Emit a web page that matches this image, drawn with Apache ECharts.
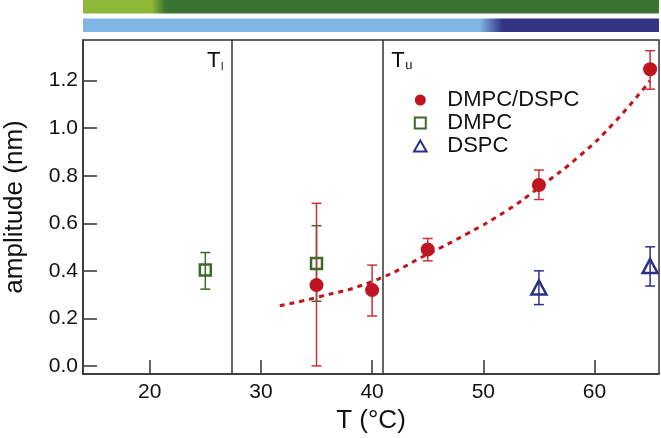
<!DOCTYPE html>
<html>
<head>
<meta charset="utf-8">
<script src="https://cdn.jsdelivr.net/npm/echarts@6/dist/echarts.min.js"></script>
<style>html,body{margin:0;padding:0;background:#fff;}#c{width:661px;height:438px;}</style>
</head>
<body>
<div id="c"></div>
<script>
// ---- data ----
const T_mix = [35, 40, 45, 55, 65];
const amp_mix = [0.34, 0.319, 0.49, 0.761, 1.248];
const low_mix = [0.0, 0.21, 0.442, 0.70, 1.164];
const high_mix = [0.684, 0.424, 0.536, 0.824, 1.326];

const T_dmpc = [25, 35];
const amp_dmpc = [0.403, 0.431];
const low_dmpc = [0.323, 0.272];
const high_dmpc = [0.477, 0.59];

const T_dspc = [55, 65];
const amp_dspc = [0.33, 0.42];
const low_dspc = [0.258, 0.336];
const high_dspc = [0.40, 0.501];

const T_fit = [31.7, 35, 40, 45, 48.5, 52, 55, 58.7, 61.7, 65];
const amp_fit = [0.253, 0.288, 0.355, 0.47, 0.555, 0.65, 0.75, 0.885, 1.02, 1.2];

const T_lower = 27.4, T_upper = 41.0;
const xTicks = [20, 30, 40, 50, 60];
const yTicks = [0, 0.2, 0.4, 0.6, 0.8, 1.0, 1.2];
// phase bars: [light end, dark start] temperatures
const dmpcPhase = [20.2, 21.4];
const dspcPhase = [49.7, 51.7];

const RED = '#c0141e', GREEN = '#3c6a2a', BLUE = '#2e3087';
const FONT = 'Liberation Sans';
const X_MIN = 14, X_MAX = 65.8;

const zip = (a, b) => a.map((v, i) => [v, b[i]]);
const zip3 = (a, b, c) => a.map((v, i) => [v, b[i], c[i]]);

function errSeries(data, color, z) {
  return {
    type: 'custom', z: z, silent: true,
    data: data,
    encode: {x: 0, y: [1, 2]},
    renderItem: function (params, api) {
      const x = api.value(0);
      const p1 = api.coord([x, api.value(1)]);
      const p2 = api.coord([x, api.value(2)]);
      const w = 5;
      const st = {stroke: color, lineWidth: 1.5};
      return {type: 'group', children: [
        {type: 'line', shape: {x1: p1[0], y1: p1[1], x2: p2[0], y2: p2[1]}, style: st},
        {type: 'line', shape: {x1: p1[0] - w, y1: p1[1], x2: p1[0] + w, y2: p1[1]}, style: st},
        {type: 'line', shape: {x1: p2[0] - w, y1: p2[1], x2: p2[0] + w, y2: p2[1]}, style: st}
      ]};
    }
  };
}

const chart = echarts.init(document.getElementById('c'), null, {renderer: 'canvas'});
chart.setOption({
  animation: false,
  backgroundColor: '#fff',
  textStyle: {fontFamily: FONT},
  grid: {left: 83, right: 2, top: 40, bottom: 64, containLabel: false, outerBoundsMode: 'none',
    show: true, borderColor: '#333', borderWidth: 1.5, backgroundColor: 'transparent'},
  xAxis: {
    type: 'value', min: X_MIN, max: X_MAX,
    name: 'T (°C)', nameLocation: 'middle', nameGap: 33,
    nameTextStyle: {fontSize: 26, color: '#111', fontFamily: FONT},
    axisLine: {show: true, onZero: false, lineStyle: {color: '#333', width: 1.5}},
    axisTick: {show: true, inside: true, length: 14, customValues: xTicks, lineStyle: {color: '#333', width: 1.5}},
    axisLabel: {customValues: xTicks, fontSize: 21, color: '#111', margin: 8, fontFamily: FONT},
    splitLine: {show: false}
  },
  yAxis: {
    type: 'value', min: -0.034, max: 1.371,
    name: 'amplitude (nm)', nameLocation: 'middle', nameGap: 55, nameRotate: 90,
    nameTextStyle: {fontSize: 26, color: '#111', fontFamily: FONT},
    axisLine: {show: true, onZero: false, lineStyle: {color: '#333', width: 1.5}},
    axisTick: {show: true, inside: true, length: 14, customValues: yTicks, lineStyle: {color: '#333', width: 1.5}},
    axisLabel: {customValues: yTicks, fontSize: 21, color: '#111', margin: 5, fontFamily: FONT, formatter: v => v.toFixed(1)},
    splitLine: {show: false}
  },
  legend: {
    orient: 'vertical', left: 413, top: 89, padding: 0, itemGap: 1,
    itemWidth: 14, itemHeight: 11, symbolKeepAspect: true,
    data: [
      {name: 'DMPC/DSPC', icon: 'circle'},
      {name: 'DMPC', icon: 'path://M0,0L10,0L10,10L0,10Z'},
      {name: 'DSPC', icon: 'path://M6,0L12,10.5L0,10.5Z'}
    ],
    textStyle: {fontSize: 22, lineHeight: 22, color: '#111', fontFamily: FONT, padding: [0, 0, 0, 15]}
  },
  series: [
    {
      type: 'line', name: 'fit', data: zip(T_fit, amp_fit), smooth: true, symbol: 'none', z: 1,
      lineStyle: {color: RED, width: 3, type: [5, 5]},
      markLine: {
        silent: true, symbol: 'none', label: {show: false},
        lineStyle: {color: '#333', width: 1.5, type: 'solid'},
        data: [{xAxis: T_lower}, {xAxis: T_upper}]
      }
    },
    errSeries(zip3(T_dmpc, low_dmpc, high_dmpc), GREEN, 2),
    errSeries(zip3(T_dspc, low_dspc, high_dspc), BLUE, 2),
    errSeries(zip3(T_mix, low_mix, high_mix), '#c8323a', 3),
    {
      type: 'scatter', name: 'DMPC', data: zip(T_dmpc, amp_dmpc), symbol: 'rect', symbolSize: 11, z: 4,
      itemStyle: {color: 'rgba(255,255,255,0)', borderColor: GREEN, borderWidth: 2.5, opacity: 1}
    },
    {
      type: 'scatter', name: 'DSPC', data: zip(T_dspc, amp_dspc), symbol: 'triangle', symbolSize: [15, 14], z: 4,
      itemStyle: {color: 'rgba(255,255,255,0)', borderColor: BLUE, borderWidth: 2.5, opacity: 1}
    },
    {
      type: 'scatter', name: 'DMPC/DSPC', data: zip(T_mix, amp_mix), symbol: 'circle', symbolSize: 14, z: 5,
      itemStyle: {color: RED, opacity: 1}
    }
  ]
});

function px(v) { return chart.convertToPixel({xAxisIndex: 0}, v); }
const x0 = px(X_MIN), x1 = px(X_MAX), W = x1 - x0;
const stop = v => (px(v) - x0) / W;
const xl = px(T_lower), xu = px(T_upper);
const yTop = chart.convertToPixel({yAxisIndex: 0}, 1.371);

chart.setOption({
  graphic: [
    {type: 'rect', shape: {x: x0, y: 0, width: W, height: 13.5}, silent: true,
      style: {fill: new echarts.graphic.LinearGradient(0, 0, 1, 0, [
        {offset: 0, color: '#8eb838'}, {offset: stop(dmpcPhase[0]), color: '#8eb838'},
        {offset: stop(dmpcPhase[1]), color: '#3b7330'}, {offset: 1, color: '#3b7330'}])}},
    {type: 'rect', shape: {x: x0, y: 18.5, width: W, height: 13.5}, silent: true,
      style: {fill: new echarts.graphic.LinearGradient(0, 0, 1, 0, [
        {offset: 0, color: '#7fb5e4'}, {offset: stop(dspcPhase[0]), color: '#7fb5e4'},
        {offset: stop(dspcPhase[1]), color: '#333482'}, {offset: 1, color: '#333482'}])}},
    {type: 'text', x: xl - 25, y: yTop + 10, silent: true,
      style: {text: 'T', fontSize: 22, fontFamily: FONT, fill: '#111'}},
    {type: 'text', x: xl - 11, y: yTop + 21, silent: true,
      style: {text: 'l', fontSize: 11, fontFamily: FONT, fill: '#111'}},
    {type: 'text', x: xu + 8, y: yTop + 10, silent: true,
      style: {text: 'T', fontSize: 22, fontFamily: FONT, fill: '#111'}},
    {type: 'text', x: xu + 22, y: yTop + 19, silent: true,
      style: {text: 'u', fontSize: 13, fontFamily: FONT, fill: '#111'}}
  ]
});
</script>
</body>
</html>
